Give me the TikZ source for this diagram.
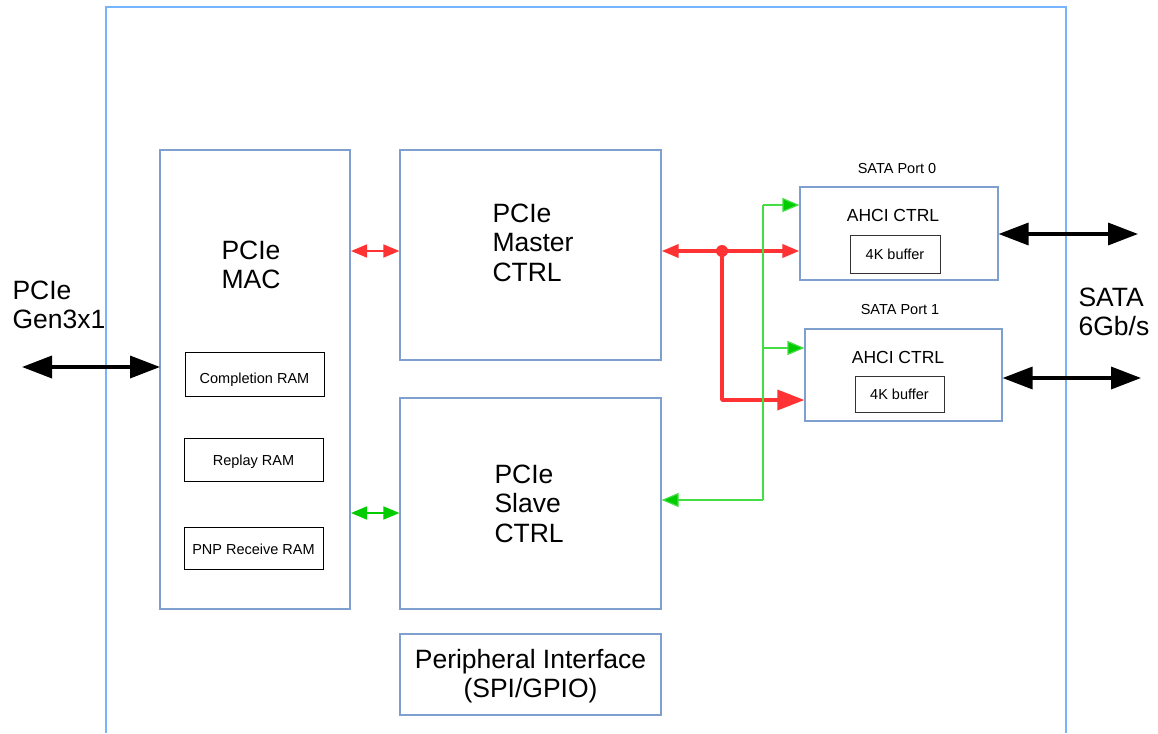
\documentclass[tikz,border=0pt]{standalone}
\usepackage{fontspec}
\setmainfont{Liberation Sans}
\usetikzlibrary{arrows.meta}
\definecolor{boxblue}{HTML}{7F9FCF}
\definecolor{frameblue}{HTML}{77B4FF}
\definecolor{redc}{HTML}{FF3333}
\definecolor{greenc}{HTML}{00CC00}
\definecolor{greenl}{HTML}{44DD44}
\tikzset{
  blk/.style={draw=boxblue, line width=1.2pt},
  ram/.style={draw=black, line width=0.9pt, inner sep=0pt, font=\fontsize{14.5}{17}\selectfont},
  buf/.style={draw=black!80, line width=0.9pt},
  bigtxt/.style={font=\fontsize{26.5}{29.5}\selectfont, align=left, anchor=center},
  midtxt/.style={font=\fontsize{17.5}{20}\selectfont},
  smltxt/.style={font=\fontsize{14.5}{17}\selectfont},
  blackarr/.style={line width=3.5pt, {Triangle[length=30pt,width=22pt]}-{Triangle[length=30pt,width=22pt]}},
  redsm/.style={draw=redc, line width=1.6pt, {Triangle[length=16pt,width=13pt]}-{Triangle[length=16pt,width=13pt]}},
  greensm/.style={draw=greenc, line width=1.6pt, {Triangle[length=16pt,width=13pt]}-{Triangle[length=16pt,width=13pt]}},
  greenone/.style={draw=greenl, line width=1.2pt, -{Triangle[length=17pt,width=14pt,fill=greenc]}},
}
\begin{document}
\begin{tikzpicture}[x=1pt,y=-1pt]
\useasboundingbox (0,0) rectangle (1158,733);
% outer frame
\draw[frameblue, line width=1.2pt] (106,733) -- (106,7) -- (1066,7) -- (1066,733);
% blocks
\draw[blk] (160,150) rectangle (350,609);
\node[bigtxt, align=center] (mac) at (251,265) {PCIe\\MAC};
\node[ram, minimum width=139pt, minimum height=44pt, text height=18pt, text depth=0pt] (cram) at (254.5,374) {Completion RAM};
\node[ram, minimum width=139pt, minimum height=43pt, text height=11.5pt, text depth=0pt] (rram) at (253.5,459.5) {Replay RAM};
\node[ram, minimum width=139pt, minimum height=42pt, text height=12.5pt, text depth=0pt] (pram) at (253.5,548) {PNP Receive RAM};

\node[blk, minimum width=261pt, minimum height=210pt, inner sep=0pt] (master) at (530.5,255) {};
\node[bigtxt, anchor=west] (mastertxt) at (489,242.5) {PCIe\\Master\\CTRL};
\node[blk, minimum width=261pt, minimum height=211pt, inner sep=0pt] (slave) at (530.5,503.5) {};
\node[bigtxt, anchor=west] (slavetxt) at (491,503.5) {PCIe\\Slave\\CTRL};
\node[blk, minimum width=261pt, minimum height=81pt, inner sep=0pt] (periph) at (530.5,674.5) {};
\node[bigtxt, align=center] (periphtxt) at (530.5,676) {Peripheral Interface\\(SPI/GPIO)};

% SATA port 0
\node[blk, minimum width=198pt, minimum height=93pt, inner sep=0pt] (p0) at (899,233.5) {};
\node[smltxt] (p0lbl) at (897,169) {SATA Port 0};
\node[midtxt] (p0ahci) at (893,215) {AHCI CTRL};
\node[buf, minimum width=90pt, minimum height=38pt, inner sep=0pt, smltxt, text height=11.5pt, text depth=0pt] (p0buf) at (895,254) {4K buffer};
% SATA port 1
\node[blk, minimum width=197pt, minimum height=92pt, inner sep=0pt] (p1) at (903.5,375) {};
\node[smltxt] (p1lbl) at (900,310) {SATA Port 1};
\node[midtxt] (p1ahci) at (898,357) {AHCI CTRL};
\node[buf, minimum width=89pt, minimum height=36pt, inner sep=0pt, smltxt, text height=11.5pt, text depth=0pt] (p1buf) at (899.5,394) {4K buffer};

% external labels
\node[bigtxt, anchor=west] (pcielbl) at (9,305) {PCIe\\Gen3x1};
\node[bigtxt, anchor=west] (satalbl) at (1075,312) {SATA\\6Gb/s};

% black arrows
\coordinate (pcieL) at (22,367);
\draw[blackarr] (pcieL) -- (160,367);
\coordinate (sata0R) at (1138,234);
\coordinate (sata1R) at (1141,378);
\draw[blackarr] (p0.east |- 0,234) -- (sata0R);
\draw[blackarr] (p1.east |- 0,378) -- (sata1R);

% MAC <-> master / slave
\draw[redsm] (351,251) -- (master.west |- 0,251);
\draw[greensm] (351,513) -- (slave.west |- 0,513);

% red thick
\coordinate (rdot) at (722,251);
\coordinate (rcorner) at (722,400);
\draw[redc, line width=3.5pt, {Triangle[length=17pt,width=13pt]}-{Triangle[length=17pt,width=13pt]}] (master.east |- 0,251) -- (p0.west |- 0,251);
\draw[redc, line width=3.5pt, line join=round, -{Triangle[length=27pt,width=20pt]}] (rdot) -- (rcorner) -- (p1.west |- 0,400);
\fill[redc] (rdot) circle (6pt);

% green bus
\coordinate (gtop) at (763,205);
\coordinate (gmid) at (763,348);
\coordinate (gbot) at (763,500);
\draw[greenl, line width=1.2pt] (gtop) -- (gbot);
\draw[greenone] (gtop) -- (p0.west |- 0,205);
\draw[greenone] (gmid) -- (p1.west |- 0,348);
\draw[greenone] (gbot) -- (slave.east |- 0,500);
\end{tikzpicture}
\end{document}
